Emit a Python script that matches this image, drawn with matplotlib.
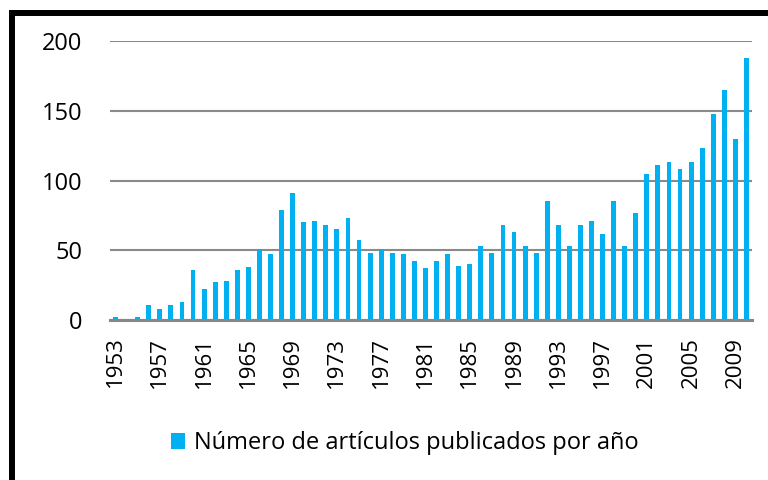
import matplotlib.pyplot as plt
from matplotlib.patches import Rectangle

# Artículos publicados por año (1953-2010)
years = list(range(1953, 2011))
articles = [2, 0, 2, 11, 8, 11, 13, 36, 22, 27,
            28, 36, 38, 51, 47, 79, 91, 70, 71, 68,
            65, 73, 57, 48, 51, 48, 47, 42, 37, 42,
            47, 39, 40, 53, 48, 68, 63, 53, 48, 85,
            68, 53, 68, 71, 62, 85, 53, 77, 105, 111,
            113, 108, 113, 123, 148, 165, 130, 188]
y_ticks = [0, 50, 100, 150, 200]
legend_label = 'Número de artículos publicados por año'

plt.rcParams['font.family'] = ['Open Sans', 'DejaVu Sans']

fig = plt.figure(figsize=(7.68, 4.8), dpi=100)
ax = fig.add_axes([110 / 768, 160 / 480, 642 / 768, 279 / 480])

x = list(range(len(years)))
ax.bar(x, articles, width=0.44, color='#00B0F0', label=legend_label, zorder=3)

ax.set_xlim(-0.5, len(years) - 0.5)
ax.set_ylim(0, 200)
ax.set_yticks(y_ticks)
ax.set_yticklabels([str(v) for v in y_ticks], fontsize=17)
tick_idx = x[::4]
ax.set_xticks(tick_idx)
ax.set_xticklabels([str(years[i]) for i in tick_idx], rotation=90, fontsize=16)
ax.tick_params(axis='both', length=0, colors='black')
ax.tick_params(axis='y', pad=20)
ax.tick_params(axis='x', pad=12)

ax.grid(axis='y', color='#8A8A8A', linewidth=1.5, zorder=0)
for side in ['top', 'right', 'left']:
    ax.spines[side].set_visible(False)
ax.spines['bottom'].set_color('#878787')
ax.spines['bottom'].set_linewidth(2.2)
ax.spines['bottom'].set_zorder(4)

fig.legend(loc='center', bbox_to_anchor=(0.527, 0.077), frameon=False,
           fontsize=17, handlelength=0.6, handleheight=0.65,
           handletextpad=0.4)

# thick black frame, cut off at the right and bottom edges
frame = Rectangle((12 / 768, -0.2), 1.2, (480 - 13) / 480 + 0.2,
                  transform=fig.transFigure, fill=False,
                  edgecolor='black', linewidth=4.3)
fig.add_artist(frame)

fig.savefig('out.png', dpi=100)
